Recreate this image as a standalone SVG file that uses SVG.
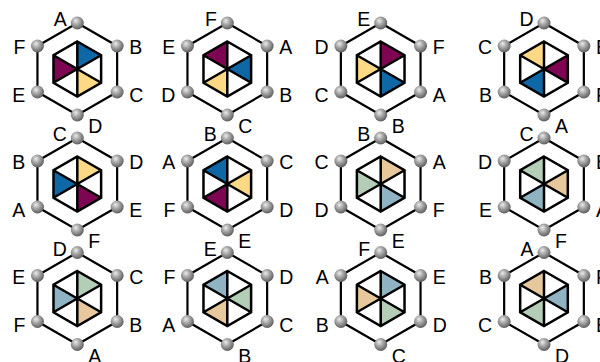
<svg xmlns="http://www.w3.org/2000/svg" xmlns:xlink="http://www.w3.org/1999/xlink" width="600" height="362" viewBox="0 0 600 362">
<style>
.edge{fill:none;stroke:#000;stroke-width:2.2;stroke-linejoin:miter}
.inner{fill:none;stroke:#000;stroke-width:2.5;stroke-linejoin:miter}
.bg{fill:#fff}
.blue{fill:#0f67a6}.purple{fill:#7d0552}.yellow{fill:#fdd985}
.tan{fill:#e6c89c}.green{fill:#b3cdb6}.slate{fill:#8fb3c2}
text{font-family:"Liberation Sans",Arial,sans-serif;font-size:19.5px;fill:#000}
.e{text-anchor:end}.s{text-anchor:start}
</style>
<defs>
<radialGradient id="ballg" cx="0.42" cy="0.38" r="0.62" fx="0.38" fy="0.32">
<stop offset="0" stop-color="#ececec"/>
<stop offset="0.45" stop-color="#a8a8a8"/>
<stop offset="1" stop-color="#5e5e5e"/>
</radialGradient>
<polygon id="outer" points="0,-46 39.84,-23 39.84,23 0,46 -39.84,23 -39.84,-23"/>
<polygon id="innerbg" points="0,-27.5 23.82,-13.75 23.82,13.75 0,27.5 -23.82,13.75 -23.82,-13.75"/>
<path id="t1" d="M0,0 L0,-27.5 L23.82,-13.75 Z"/>
<path id="t2" d="M0,0 L23.82,-13.75 L23.82,13.75 Z"/>
<path id="t3" d="M0,0 L23.82,13.75 L0,27.5 Z"/>
<path id="t4" d="M0,0 L0,27.5 L-23.82,13.75 Z"/>
<path id="t5" d="M0,0 L-23.82,13.75 L-23.82,-13.75 Z"/>
<path id="t6" d="M0,0 L-23.82,-13.75 L0,-27.5 Z"/>
<path id="innerlines" d="M0,-27.5 L23.82,-13.75 L23.82,13.75 L0,27.5 L-23.82,13.75 L-23.82,-13.75 Z M0,-27.5 L0,27.5 M23.82,-13.75 L-23.82,13.75 M23.82,13.75 L-23.82,-13.75"/>
<g id="balls">
<circle cx="0" cy="-46" r="6.5" fill="url(#ballg)"/>
<circle cx="39.84" cy="-23" r="6.5" fill="url(#ballg)"/>
<circle cx="39.84" cy="23" r="6.5" fill="url(#ballg)"/>
<circle cx="0" cy="46" r="6.5" fill="url(#ballg)"/>
<circle cx="-39.84" cy="23" r="6.5" fill="url(#ballg)"/>
<circle cx="-39.84" cy="-23" r="6.5" fill="url(#ballg)"/>
</g>
</defs>

<g id="connectors">
<use href="#outer" class="edge" transform="translate(77.3,69)"/>
<use href="#outer" class="edge" transform="translate(227.3,69)"/>
<use href="#outer" class="edge" transform="translate(380.7,69)"/>
<use href="#outer" class="edge" transform="translate(544,69)"/>
<use href="#outer" class="edge" transform="translate(77.3,184)"/>
<use href="#outer" class="edge" transform="translate(227.3,184)"/>
<use href="#outer" class="edge" transform="translate(380.7,184)"/>
<use href="#outer" class="edge" transform="translate(544,184)"/>
<use href="#outer" class="edge" transform="translate(77.3,298.5)"/>
<use href="#outer" class="edge" transform="translate(227.3,298.5)"/>
<use href="#outer" class="edge" transform="translate(380.7,298.5)"/>
<use href="#outer" class="edge" transform="translate(544,298.5)"/>
</g>

<g id="hex-1-1" transform="translate(77.3,69)">
<use href="#innerbg" class="bg"/><use href="#t1" class="blue"/><use href="#t5" class="purple"/><use href="#t3" class="yellow"/><use href="#innerlines" class="inner"/>
<use href="#balls"/>
<text class="e" x="-10.5" y="-43">A</text><text class="s" x="52" y="-15">B</text><text class="s" x="52" y="33">C</text><text class="s" x="11" y="64">D</text><text class="e" x="-52" y="33">E</text><text class="e" x="-52" y="-15">F</text>
</g>
<g id="hex-1-2" transform="translate(227.3,69)">
<use href="#innerbg" class="bg"/><use href="#t6" class="purple"/><use href="#t2" class="blue"/><use href="#t4" class="yellow"/><use href="#innerlines" class="inner"/>
<use href="#balls"/>
<text class="e" x="-10.5" y="-43">F</text><text class="s" x="52" y="-15">A</text><text class="s" x="52" y="33">B</text><text class="s" x="11" y="64">C</text><text class="e" x="-52" y="33">D</text><text class="e" x="-52" y="-15">E</text>
</g>
<g id="hex-1-3" transform="translate(380.7,69)">
<use href="#innerbg" class="bg"/><use href="#t1" class="purple"/><use href="#t5" class="yellow"/><use href="#t3" class="blue"/><use href="#innerlines" class="inner"/>
<use href="#balls"/>
<text class="e" x="-10.5" y="-43">E</text><text class="s" x="52" y="-15">F</text><text class="s" x="52" y="33">A</text><text class="s" x="11" y="64">B</text><text class="e" x="-52" y="33">C</text><text class="e" x="-52" y="-15">D</text>
</g>
<g id="hex-1-4" transform="translate(544,69)">
<use href="#innerbg" class="bg"/><use href="#t6" class="yellow"/><use href="#t2" class="purple"/><use href="#t4" class="blue"/><use href="#innerlines" class="inner"/>
<use href="#balls"/>
<text class="e" x="-10.5" y="-43">D</text><text class="s" x="52" y="-15">E</text><text class="s" x="52" y="33">F</text><text class="s" x="11" y="64">A</text><text class="e" x="-52" y="33">B</text><text class="e" x="-52" y="-15">C</text>
</g>

<g id="hex-2-1" transform="translate(77.3,184)">
<use href="#innerbg" class="bg"/><use href="#t1" class="yellow"/><use href="#t5" class="blue"/><use href="#t3" class="purple"/><use href="#innerlines" class="inner"/>
<use href="#balls"/>
<text class="e" x="-10.5" y="-43">C</text><text class="s" x="52" y="-15">D</text><text class="s" x="52" y="33">E</text><text class="s" x="11" y="64">F</text><text class="e" x="-52" y="33">A</text><text class="e" x="-52" y="-15">B</text>
</g>
<g id="hex-2-2" transform="translate(227.3,184)">
<use href="#innerbg" class="bg"/><use href="#t6" class="blue"/><use href="#t2" class="yellow"/><use href="#t4" class="purple"/><use href="#innerlines" class="inner"/>
<use href="#balls"/>
<text class="e" x="-10.5" y="-43">B</text><text class="s" x="52" y="-15">C</text><text class="s" x="52" y="33">D</text><text class="s" x="11" y="64">E</text><text class="e" x="-52" y="33">F</text><text class="e" x="-52" y="-15">A</text>
</g>
<g id="hex-2-3" transform="translate(380.7,184)">
<use href="#innerbg" class="bg"/><use href="#t1" class="tan"/><use href="#t5" class="green"/><use href="#t3" class="slate"/><use href="#innerlines" class="inner"/>
<use href="#balls"/>
<text class="e" x="-10.5" y="-43">B</text><text class="s" x="52" y="-15">A</text><text class="s" x="52" y="33">F</text><text class="s" x="11" y="64">E</text><text class="e" x="-52" y="33">D</text><text class="e" x="-52" y="-15">C</text>
</g>
<g id="hex-2-4" transform="translate(544,184)">
<use href="#innerbg" class="bg"/><use href="#t6" class="green"/><use href="#t2" class="tan"/><use href="#t4" class="slate"/><use href="#innerlines" class="inner"/>
<use href="#balls"/>
<text class="e" x="-10.5" y="-43">C</text><text class="s" x="52" y="-15">B</text><text class="s" x="52" y="33">A</text><text class="s" x="11" y="64">F</text><text class="e" x="-52" y="33">E</text><text class="e" x="-52" y="-15">D</text>
</g>

<g id="hex-3-1" transform="translate(77.3,298.5)">
<use href="#innerbg" class="bg"/><use href="#t1" class="green"/><use href="#t5" class="slate"/><use href="#t3" class="tan"/><use href="#innerlines" class="inner"/>
<use href="#balls"/>
<text class="e" x="-10.5" y="-43">D</text><text class="s" x="52" y="-15">C</text><text class="s" x="52" y="33">B</text><text class="s" x="11" y="64">A</text><text class="e" x="-52" y="33">F</text><text class="e" x="-52" y="-15">E</text>
</g>
<g id="hex-3-2" transform="translate(227.3,298.5)">
<use href="#innerbg" class="bg"/><use href="#t6" class="slate"/><use href="#t2" class="green"/><use href="#t4" class="tan"/><use href="#innerlines" class="inner"/>
<use href="#balls"/>
<text class="e" x="-10.5" y="-43">E</text><text class="s" x="52" y="-15">D</text><text class="s" x="52" y="33">C</text><text class="s" x="11" y="64">B</text><text class="e" x="-52" y="33">A</text><text class="e" x="-52" y="-15">F</text>
</g>
<g id="hex-3-3" transform="translate(380.7,298.5)">
<use href="#innerbg" class="bg"/><use href="#t1" class="slate"/><use href="#t5" class="tan"/><use href="#t3" class="green"/><use href="#innerlines" class="inner"/>
<use href="#balls"/>
<text class="e" x="-10.5" y="-43">F</text><text class="s" x="52" y="-15">E</text><text class="s" x="52" y="33">D</text><text class="s" x="11" y="64">C</text><text class="e" x="-52" y="33">B</text><text class="e" x="-52" y="-15">A</text>
</g>
<g id="hex-3-4" transform="translate(544,298.5)">
<use href="#innerbg" class="bg"/><use href="#t6" class="tan"/><use href="#t2" class="slate"/><use href="#t4" class="green"/><use href="#innerlines" class="inner"/>
<use href="#balls"/>
<text class="e" x="-10.5" y="-43">A</text><text class="s" x="52" y="-15">F</text><text class="s" x="52" y="33">E</text><text class="s" x="11" y="64">D</text><text class="e" x="-52" y="33">C</text><text class="e" x="-52" y="-15">B</text>
</g>
</svg>
